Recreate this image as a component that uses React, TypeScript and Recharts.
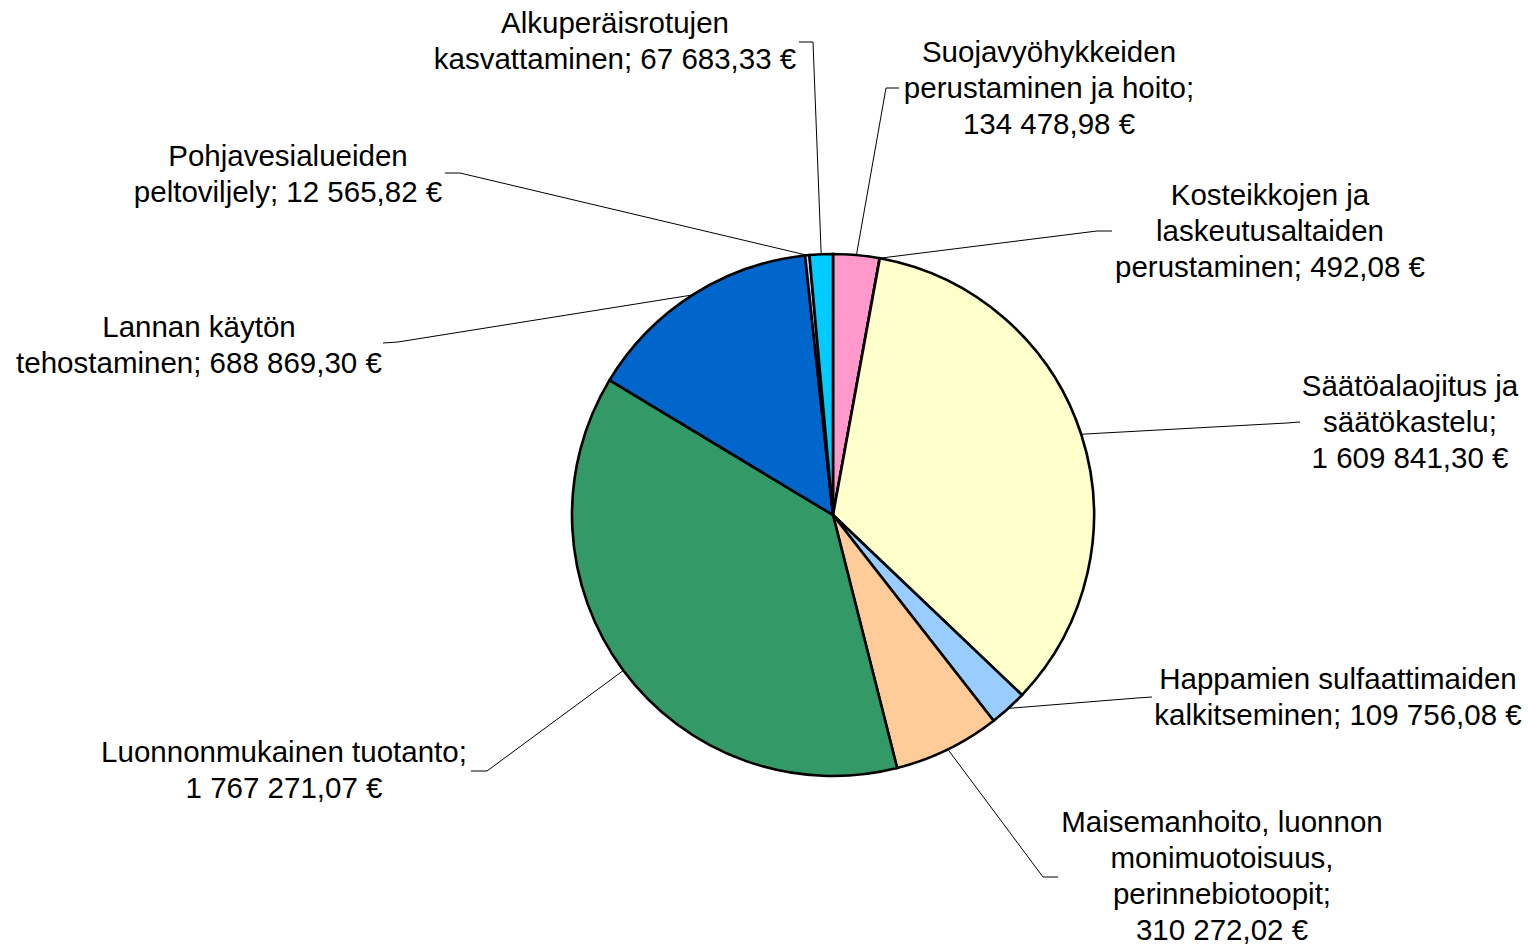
import { PieChart, Pie, Cell } from 'recharts';

const categories = [
    'Suojavyöhykkeiden\nperustaminen ja hoito',
    'Kosteikkojen ja\nlaskeutusaltaiden\nperustaminen',
    'Säätöalaojitus ja\nsäätökastelu',
    'Happamien sulfaattimaiden\nkalkitseminen',
    'Maisemanhoito, luonnon\nmonimuotoisuus,\nperinnebiotoopit',
    'Luonnonmukainen tuotanto',
    'Lannan käytön\ntehostaminen',
    'Pohjavesialueiden\npeltoviljely',
    'Alkuperäisrotujen\nkasvattaminen',
];

const values = [134478.98, 492.08, 1609841.3, 109756.08, 310272.02, 1767271.07, 688869.3, 12565.82, 67683.33];

// value goes to its own line after the ";" for these
const valueOnOwnLine = [true, false, true, false, true, true, false, false, false];

const COLORS = ['#FF99CC', '#FFFF99', '#FFFFCC', '#99CCFF', '#FFCC99', '#339966', '#0066CC', '#CCCCFF', '#00CCFF'];

// leader line bend / end point and label block position (first line centre)
const labelLayout = [
    { elbow: [886, 88], end: [899, 88], tx: 1049, ty: 52 },
    { elbow: [1097, 231], end: [1112, 231], tx: 1270, ty: 195 },
    { elbow: [1287, 423], end: [1300, 422], tx: 1410, ty: 386 },
    { elbow: [1137, 698], end: [1152, 697], tx: 1338, ty: 679 },
    { elbow: [1043, 877], end: [1058, 877], tx: 1222, ty: 822 },
    { elbow: [487, 771], end: [471, 771], tx: 284, ty: 752 },
    { elbow: [398, 342], end: [383, 343], tx: 199, ty: 327 },
    { elbow: [460, 173], end: [445, 173], tx: 288, ty: 156 },
    { elbow: [813, 42], end: [799, 42], tx: 615, ty: 23 },
];

const RAD = Math.PI / 180;
const FONT_SIZE = 29.5;
const LINE_H = 36.2;

const formatEur = (v: number) => {
    const [int, dec] = v.toFixed(2).split('.');
    return `${int.replace(/\B(?=(\d{3})+(?!\d))/g, ' ')},${dec} €`;
};

const data = categories.map((name, i) => ({ name, value: values[i] }));

const renderLabel = (props: any) => {
    const { cx, cy, midAngle, outerRadius, index } = props;
    const lay = labelLayout[index];
    const sx = cx + outerRadius * Math.cos(-midAngle * RAD);
    const sy = cy + outerRadius * Math.sin(-midAngle * RAD);
    const text = `${categories[index]};${valueOnOwnLine[index] ? '\n' : ' '}${formatEur(values[index])}`;
    const lines = text.split('\n');
    return (
        <g key={`label-${index}`}>
            <polyline
                points={`${sx},${sy} ${lay.elbow[0]},${lay.elbow[1]} ${lay.end[0]},${lay.end[1]}`}
                fill="none"
                stroke="#000"
                strokeWidth={1}
            />
            <text
                textAnchor="middle"
                fontFamily="'Liberation Sans', Arial, sans-serif"
                fontSize={FONT_SIZE}
                fill="#000"
            >
                {lines.map((l, k) => (
                    <tspan key={k} x={lay.tx} y={lay.ty + k * LINE_H + 9.5}>
                        {l}
                    </tspan>
                ))}
            </text>
        </g>
    );
};

export default function App() {
    return (
        <div style={{ position: 'absolute', left: 0, top: 0, width: 1529, height: 945, background: '#fff' }}>
            <PieChart width={1529} height={945} margin={{ top: 0, right: 0, bottom: 0, left: 0 }}>
                <Pie
                    data={data}
                    dataKey="value"
                    nameKey="name"
                    cx={833}
                    cy={515}
                    outerRadius={261}
                    startAngle={90}
                    endAngle={-270}
                    stroke="#000"
                    strokeWidth={2.6}
                    label={renderLabel}
                    labelLine={false}
                    isAnimationActive={false}
                >
                    {data.map((entry, i) => (
                        <Cell key={entry.name} fill={COLORS[i]} />
                    ))}
                </Pie>
            </PieChart>
        </div>
    );
}
